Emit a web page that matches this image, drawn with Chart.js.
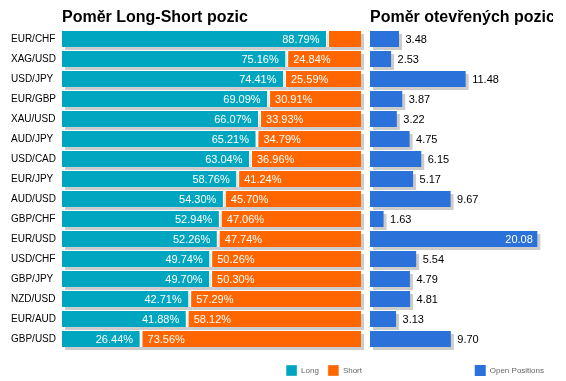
<!DOCTYPE html>
<html>
<head>
<meta charset="utf-8">
<script src="https://cdn.jsdelivr.net/npm/chart.js@4/dist/chart.umd.min.js"></script>
<style>
  html, body { margin: 0; padding: 0; background: #ffffff; overflow: hidden; }
  body { width: 566px; height: 381px; position: relative; }
  .box { position: absolute; top: 0; height: 386px; }
  #leftBox { left: 0; width: 371px; }
  #rightBox { left: 365px; width: 188px; }
</style>
</head>
<body>
<div id="leftBox" class="box"><canvas id="lsChart"></canvas></div>
<div id="rightBox" class="box"><canvas id="opChart"></canvas></div>
<script>
// ---- data ----
const pairs = ["EUR/CHF","XAG/USD","USD/JPY","EUR/GBP","XAU/USD","AUD/JPY","USD/CAD","EUR/JPY","AUD/USD","GBP/CHF","EUR/USD","USD/CHF","GBP/JPY","NZD/USD","EUR/AUD","GBP/USD"];
const longPct  = [88.79,75.16,74.41,69.09,66.07,65.21,63.04,58.76,54.30,52.94,52.26,49.74,49.70,42.71,41.88,26.44];
const shortPct = [11.21,24.84,25.59,30.91,33.93,34.79,36.96,41.24,45.70,47.06,47.74,50.26,50.30,57.29,58.12,73.56];
const openPos  = [3.48,2.53,11.48,3.87,3.22,4.75,6.15,5.17,9.67,1.63,20.08,5.54,4.79,4.81,3.13,9.70];
const titleLeft = "Poměr Long-Short pozic";
const titleRight = "Poměr otevřených pozic";
const seriesNames = ["Long", "Short", "Open Positions"];

const FONT = "'Liberation Sans', Arial, Helvetica, sans-serif";
const C_LONG = "#00a6bf", C_SHORT = "#ff6600", C_OPEN = "#2a71d9", C_SHADOW = "#cccccc";

// shadow under every bar, from the bar elements themselves
const shadowPlugin = {
  id: 'shadow',
  beforeDatasetsDraw(chart) {
    const ctx = chart.ctx;
    ctx.save();
    ctx.fillStyle = C_SHADOW;
    chart.data.datasets.forEach((ds, di) => {
      const meta = chart.getDatasetMeta(di);
      meta.data.forEach(el => {
        const p = el.getProps(['x','y','base','height'], true);
        const l = Math.min(p.x, p.base), r = Math.max(p.x, p.base);
        ctx.fillRect(l + 3, p.y - p.height / 2 + 3, r - l, p.height);
      });
    });
    ctx.restore();
  }
};

// title drawn at left edge of chart area
const titlePlugin = {
  id: 'areaTitle',
  afterDraw(chart, args, opts) {
    const ctx = chart.ctx;
    ctx.save();
    ctx.font = "bold 16px " + FONT;
    ctx.fillStyle = "#000000";
    ctx.textAlign = 'left';
    ctx.textBaseline = 'alphabetic';
    ctx.fillText(opts.text, chart.chartArea.left, 22);
    ctx.restore();
  }
};

const lsLabels = {
  id: 'lsLabels',
  afterDatasetsDraw(chart) {
    const ctx = chart.ctx;
    ctx.save();
    ctx.font = "11px " + FONT;
    ctx.textBaseline = 'middle';
    ctx.fillStyle = "#ffffff";
    const m0 = chart.getDatasetMeta(0), m1 = chart.getDatasetMeta(1);
    pairs.forEach((_, i) => {
      const a = m0.data[i].getProps(['x','y','base'], true);
      const t0 = longPct[i].toFixed(2) + "%";
      const w0 = ctx.measureText(t0).width;
      if (a.x - a.base > w0 + 10) { ctx.textAlign = 'right'; ctx.fillText(t0, a.x - 8, a.y + 1); }
      const b = m1.data[i].getProps(['x','y','base'], true);
      const t1 = shortPct[i].toFixed(2) + "%";
      const w1 = ctx.measureText(t1).width;
      if (b.x - b.base > w1 + 10) { ctx.textAlign = 'left'; ctx.fillText(t1, b.base + 6.5, b.y + 1); }
    });
    ctx.restore();
  }
};

const opLabels = {
  id: 'opLabels',
  afterDatasetsDraw(chart) {
    const ctx = chart.ctx;
    ctx.save();
    ctx.font = "11px " + FONT;
    ctx.textBaseline = 'middle';
    const m = chart.getDatasetMeta(0);
    openPos.forEach((v, i) => {
      const p = m.data[i].getProps(['x','y'], true);
      const t = v.toFixed(2);
      const w = ctx.measureText(t).width;
      if (p.x + 6.5 + w > chart.chartArea.right) {
        ctx.fillStyle = "#ffffff"; ctx.textAlign = 'right';
        ctx.fillText(t, p.x - 4.5, p.y + 1);
      } else {
        ctx.fillStyle = "#000000"; ctx.textAlign = 'left';
        ctx.fillText(t, p.x + 6.5, p.y + 1);
      }
    });
    ctx.restore();
  }
};

const legendOpts = {
  display: true,
  position: 'bottom',
  align: 'end',
  labels: { boxWidth: 11, boxHeight: 11, padding: 9, color: '#666666', font: { family: FONT, size: 8 } }
};

new Chart(document.getElementById('lsChart'), {
  type: 'bar',
  data: {
    labels: pairs,
    datasets: [
      { label: seriesNames[0], data: longPct, backgroundColor: C_LONG, borderColor: '#ffffff',
        borderWidth: { top: 0, right: 1.5, bottom: 0, left: 0 }, borderSkipped: false },
      { label: seriesNames[1], data: shortPct, backgroundColor: C_SHORT, borderColor: '#ffffff',
        borderWidth: { top: 0, right: 0, bottom: 0, left: 1.5 }, borderSkipped: false }
    ]
  },
  options: {
    indexAxis: 'y',
    responsive: true,
    maintainAspectRatio: false,
    animation: false,
    categoryPercentage: 0.8,
    barPercentage: 1,
    layout: { padding: { left: 11, top: 29, right: 0, bottom: 0 } },
    scales: {
      x: { stacked: true, min: 0, max: 100, display: true,
           grid: { display: false }, border: { display: false }, ticks: { display: false },
           afterFit: s => { s.height = 7; } },
      y: { stacked: true, grid: { display: false }, border: { display: false },
           ticks: { crossAlign: 'far', color: '#000000', font: { family: FONT, size: 10 } },
           afterFit: s => { s.width = 51; } },
      yR: { type: 'linear', position: 'right', display: true,
            grid: { display: false }, border: { display: false }, ticks: { display: false },
            afterFit: s => { s.width = 10; } }
    },
    plugins: {
      legend: legendOpts,
      tooltip: { enabled: false },
      areaTitle: { text: titleLeft }
    }
  },
  plugins: [shadowPlugin, lsLabels, titlePlugin]
});

new Chart(document.getElementById('opChart'), {
  type: 'bar',
  data: {
    labels: pairs,
    datasets: [
      { label: seriesNames[2], data: openPos, backgroundColor: C_OPEN, borderWidth: 0 }
    ]
  },
  options: {
    indexAxis: 'y',
    responsive: true,
    maintainAspectRatio: false,
    animation: false,
    categoryPercentage: 0.8,
    barPercentage: 1,
    layout: { padding: { left: 5, top: 29, right: 0, bottom: 0 } },
    scales: {
      x: { min: 0, max: 21, display: true,
           grid: { display: false }, border: { display: false }, ticks: { display: false },
           afterFit: s => { s.height = 7; } },
      y: { display: false },
      yR: { type: 'linear', position: 'right', display: true,
            grid: { display: false }, border: { display: false }, ticks: { display: false },
            afterFit: s => { s.width = 8; } }
    },
    plugins: {
      legend: legendOpts,
      tooltip: { enabled: false },
      areaTitle: { text: titleRight }
    }
  },
  plugins: [shadowPlugin, opLabels, titlePlugin]
});
</script>
</body>
</html>
